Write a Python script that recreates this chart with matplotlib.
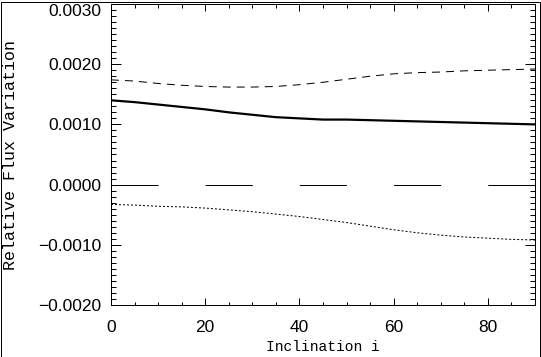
import matplotlib
matplotlib.use("Agg")
import matplotlib.pyplot as plt
from matplotlib.ticker import MultipleLocator, FuncFormatter

# inclination grid (degrees)
incl = [0, 5, 10, 15, 20, 25, 30, 35, 40, 45, 50, 55, 60, 65, 70, 75, 80, 85, 90]

# relative flux variation curves
solid = [0.00140, 0.00137, 0.00133, 0.00129, 0.00125, 0.00120, 0.00116, 0.00112,
         0.00110, 0.00108, 0.00108, 0.00107, 0.00106, 0.00105, 0.00104, 0.00103,
         0.00102, 0.00101, 0.00100]
upper = [0.00174, 0.00172, 0.00168, 0.00165, 0.00163, 0.00162, 0.00162, 0.00163,
         0.00166, 0.00170, 0.00175, 0.00180, 0.00184, 0.00186, 0.00187, 0.00189,
         0.00190, 0.00191, 0.00192]
lower = [-0.00033, -0.00034, -0.00036, -0.00037, -0.00039, -0.00042, -0.00045, -0.00049,
         -0.00053, -0.00058, -0.00063, -0.00069, -0.00075, -0.00080, -0.00084, -0.00087,
         -0.00089, -0.00091, -0.00092]
zero_x = [0, 90]
zero_y = [0.0, 0.0]

plt.rcParams['lines.scale_dashes'] = False

W, H = 541, 357
fig = plt.figure(figsize=(W / 100, H / 100), dpi=100)
ax = fig.add_axes([111 / W, 1 - 305 / H, (535 - 111) / W, (305 - 4) / H])

px = 0.72  # one pixel in points
ax.plot(incl, solid, color='black', lw=2.2 * px)
ax.plot(incl, upper, color='black', lw=px, dashes=(8 * px, 6 * px))
ax.plot(incl, lower, color='black', lw=px, dashes=(2 * px, 2 * px))
ax.plot(zero_x, zero_y, color='black', lw=px, dashes=(47.1 * px, 47.1 * px))

ax.set_xlim(0, 90)
ax.set_ylim(-0.002, 0.003)
ax.xaxis.set_major_locator(MultipleLocator(20))
ax.xaxis.set_minor_locator(MultipleLocator(5))
ax.yaxis.set_major_locator(MultipleLocator(0.001))
ax.yaxis.set_minor_locator(MultipleLocator(0.0001))
ax.yaxis.set_major_formatter(FuncFormatter(lambda v, p: f'{v:.4f}'.replace('-', '\u2212')))
ax.xaxis.set_major_formatter(FuncFormatter(lambda v, p: f'{v:.0f}'))

ax.tick_params(axis='both', which='both', direction='in', top=True, right=True,
               width=px, labelsize=12.5, colors='black')
ax.tick_params(axis='x', which='major', length=7 * px, pad=11)
ax.tick_params(axis='x', which='minor', length=3.5 * px)
ax.tick_params(axis='y', which='major', length=10 * px, pad=7)
ax.tick_params(axis='y', which='minor', length=5 * px)
for s in ax.spines.values():
    s.set_linewidth(px)

ax.set_xlabel('Inclination i', family='Liberation Mono', fontsize=10.5)
ax.set_ylabel('Relative Flux Variation', family='Liberation Mono', fontsize=12)
ax.xaxis.set_label_coords(0.5, -0.117)
ax.yaxis.set_label_coords(-0.219, 0.5)

fig.canvas.draw()
for lab in ax.get_yticklabels() + ax.get_xticklabels():
    lab.set_family('Liberation Sans')
    # top label sits below its tick so it stays inside the picture
    if lab.get_text() == '0.0030':
        lab.set_verticalalignment('top')

# black frame round the whole picture
fig.patches.append(plt.Rectangle((0.5 / W, 0.5 / H), 1 - 2 / W, 1 - 2 / H, fill=False,
                                 ec='black', lw=px, transform=fig.transFigure))

fig.savefig('out.png', dpi=100)
